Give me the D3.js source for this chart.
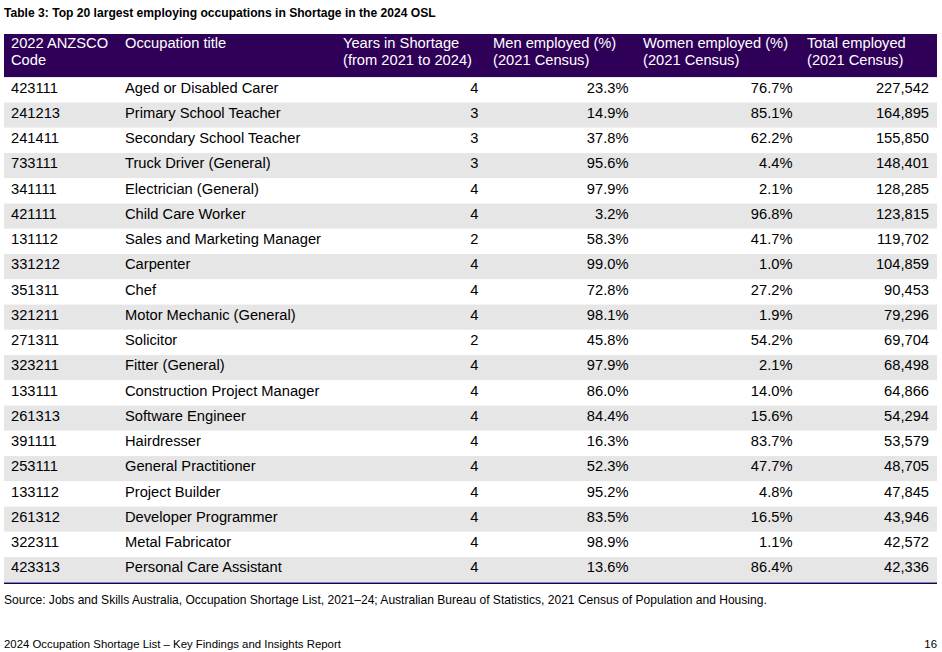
<!DOCTYPE html>
<html><head><meta charset="utf-8">
<script src="https://cdn.jsdelivr.net/npm/d3@7"></script>
<style>body{margin:0;background:#fff;}svg{display:block;font-family:"Liberation Sans",Arial,sans-serif;}</style>
</head><body>
<svg id="c" width="942" height="652"></svg>
<script>
const titleText = "Table 3: Top 20 largest employing occupations in Shortage in the 2024 OSL";
const headers = [
  ["2022 ANZSCO", "Code"],
  ["Occupation title"],
  ["Years in Shortage", "(from 2021 to 2024)"],
  ["Men employed (%)", "(2021 Census)"],
  ["Women employed (%)", "(2021 Census)"],
  ["Total employed", "(2021 Census)"]
];
const codes = ["423111","241213","241411","733111","341111","421111","131112","331212","351311","321211","271311","323211","133111","261313","391111","253111","133112","261312","322311","423313"];
const titles = ["Aged or Disabled Carer","Primary School Teacher","Secondary School Teacher","Truck Driver (General)","Electrician (General)","Child Care Worker","Sales and Marketing Manager","Carpenter","Chef","Motor Mechanic (General)","Solicitor","Fitter (General)","Construction Project Manager","Software Engineer","Hairdresser","General Practitioner","Project Builder","Developer Programmer","Metal Fabricator","Personal Care Assistant"];
const years = [4,3,3,3,4,4,2,4,4,4,2,4,4,4,4,4,4,4,4,4];
const men = [23.3,14.9,37.8,95.6,97.9,3.2,58.3,99.0,72.8,98.1,45.8,97.9,86.0,84.4,16.3,52.3,95.2,83.5,98.9,13.6];
const women = [76.7,85.1,62.2,4.4,2.1,96.8,41.7,1.0,27.2,1.9,54.2,2.1,14.0,15.6,83.7,47.7,4.8,16.5,1.1,86.4];
const totals = [227542,164895,155850,148401,128285,123815,119702,104859,90453,79296,69704,68498,64866,54294,53579,48705,47845,43946,42572,42336];
const sourceText = "Source: Jobs and Skills Australia, Occupation Shortage List, 2021\u201324; Australian Bureau of Statistics, 2021 Census of Population and Housing.";
const footerText = "2024 Occupation Shortage List \u2013 Key Findings and Insights Report";
const pageNum = "16";

const svg = d3.select("#c");
const L = 4, R = 937, headTop = 34, headBot = 77.3, bodyBot = 582.3;
const fs = 14.7;

svg.append("text").attr("x", 4).attr("y", 17).attr("font-size", 12.1).attr("font-weight", "bold").attr("fill", "#000").text(titleText);

svg.append("rect").attr("x", L).attr("y", headTop).attr("width", R - L).attr("height", headBot - headTop).attr("fill", "#2f0058");

const y = d3.scaleBand().domain(d3.range(codes.length)).range([headBot, bodyBot]).padding(0);

const rows = svg.append("g").selectAll("g").data(d3.range(codes.length)).join("g")
  .attr("transform", i => `translate(0,${y(i)})`);
rows.append("rect").attr("x", L).attr("width", R - L).attr("height", y.bandwidth())
  .attr("fill", i => i % 2 === 1 ? "#e6e6e6" : "#ffffff");

const fmtPct = d => d.toFixed(1) + "%";
const fmtInt = d3.format(",");
const cols = [
  {hx: 11, x: 11, anchor: "start", v: i => codes[i]},
  {hx: 125, x: 125, anchor: "start", v: i => titles[i]},
  {hx: 343, x: 478.5, anchor: "end", v: i => years[i]},
  {hx: 493, x: 628.5, anchor: "end", v: i => fmtPct(men[i])},
  {hx: 643, x: 792.5, anchor: "end", v: i => fmtPct(women[i])},
  {hx: 807, x: 929, anchor: "end", v: i => fmtInt(totals[i])}
];

cols.forEach((c, ci) => {
  const t = svg.append("text").attr("font-size", fs).attr("fill", "#fff");
  headers[ci].forEach((line, li) => {
    t.append("tspan").attr("x", c.hx).attr("y", 47.5 + li * 17.5).text(line);
  });
  rows.append("text").attr("x", c.x).attr("y", y.bandwidth() / 2 + 2.6)
    .attr("text-anchor", c.anchor).attr("font-size", fs).attr("fill", "#000").text(c.v);
});

svg.append("line").attr("x1", L).attr("x2", R).attr("y1", bodyBot + 1).attr("y2", bodyBot + 1)
  .attr("stroke", "#0a0a5a").attr("stroke-width", 1.5);

svg.append("text").attr("x", 4).attr("y", 604).attr("font-size", 12.05).attr("fill", "#000").text(sourceText);
svg.append("text").attr("x", 4).attr("y", 648).attr("font-size", 11.4).attr("fill", "#000").text(footerText);
svg.append("text").attr("x", 937).attr("y", 648).attr("text-anchor", "end").attr("font-size", 11.4).attr("fill", "#000").text(pageNum);
</script>
</body></html>
